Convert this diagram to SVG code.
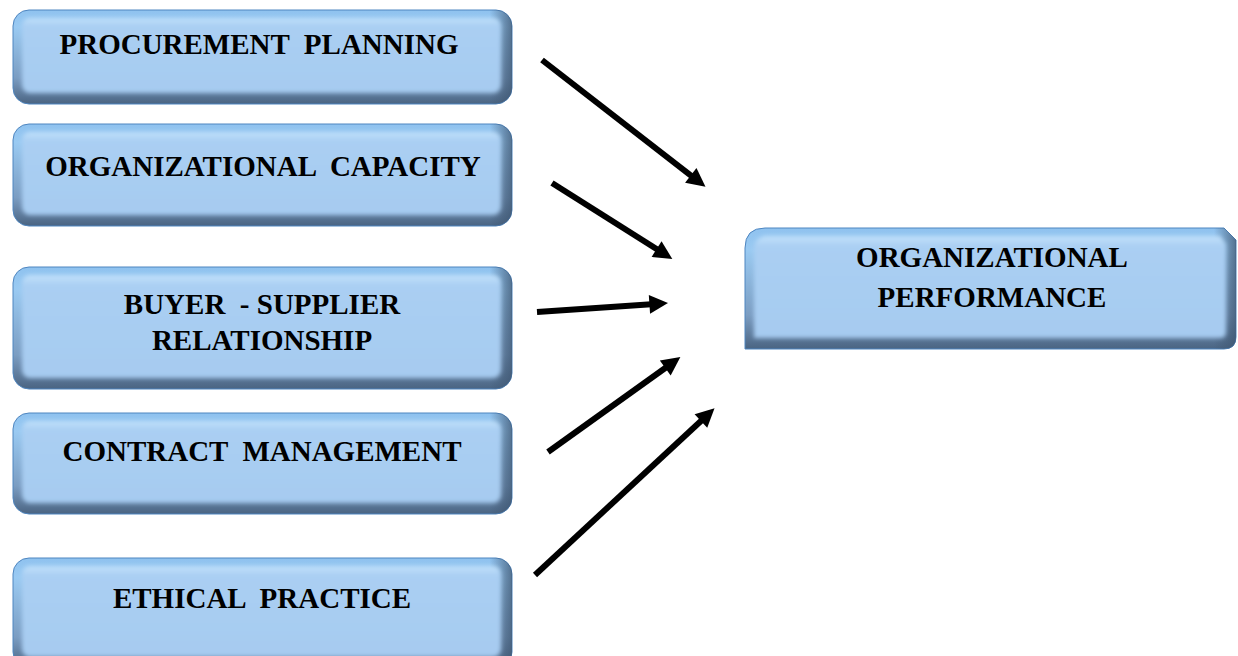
<svg xmlns="http://www.w3.org/2000/svg" width="1238" height="656" viewBox="0 0 1238 656">
  <defs>
    <!-- bevel edge shading: light top, dark bottom -->
    <linearGradient id="edgeV" x1="0" y1="0" x2="0" y2="1">
      <stop offset="0" stop-color="#8fc2ef"/>
      <stop offset="0.18" stop-color="#9acaf2"/>
      <stop offset="0.72" stop-color="#7b9dc2"/>
      <stop offset="1" stop-color="#4a6482"/>
    </linearGradient>
    <!-- darker right-hand bevel -->
    <linearGradient id="edgeH" x1="0" y1="0" x2="1" y2="0">
      <stop offset="0" stop-color="#3d5570" stop-opacity="0"/>
      <stop offset="0.955" stop-color="#3d5570" stop-opacity="0"/>
      <stop offset="1" stop-color="#3d5570" stop-opacity="0.75"/>
    </linearGradient>
    <!-- flat face of the button -->
    <linearGradient id="face" x1="0" y1="0" x2="0" y2="1">
      <stop offset="0" stop-color="#c3e2fb"/>
      <stop offset="0.1" stop-color="#aacff3"/>
      <stop offset="1" stop-color="#a6cbf0"/>
    </linearGradient>
    <filter id="soft" x="-5%" y="-10%" width="110%" height="120%">
      <feGaussianBlur stdDeviation="2"/>
    </filter>
    <marker id="head" viewBox="0 0 10 10" refX="3" refY="5" markerWidth="3.6" markerHeight="3.1" orient="auto" markerUnits="strokeWidth">
      <path d="M0,0 L10,5 L0,10 z" fill="#000"/>
    </marker>
    <style>
      .edge { fill: url(#edgeV); stroke: #4f86c0; stroke-width: 1; }
      .shade { fill: url(#edgeH); }
      .face { fill: url(#face); filter: url(#soft); }
      .label { font-family: "Liberation Serif", "Times New Roman", serif; font-weight: bold; font-size: 29px; fill: #000; text-anchor: middle; }
      .arrow { stroke: #000; stroke-width: 6; fill: none; marker-end: url(#head); }
    </style>
  </defs>

  <rect width="1238" height="656" fill="#ffffff"/>

  <g id="procurement-planning">
    <rect class="edge" x="13" y="10" width="499" height="94" rx="16"/>
    <rect class="shade" x="13" y="10" width="499" height="94" rx="16"/>
    <rect class="face" x="22" y="18" width="479" height="75" rx="8"/>
    <text class="label" x="259" y="54" xml:space="preserve">PROCUREMENT  PLANNING</text>
  </g>

  <g id="organizational-capacity">
    <rect class="edge" x="13" y="124" width="499" height="102" rx="16"/>
    <rect class="shade" x="13" y="124" width="499" height="102" rx="16"/>
    <rect class="face" x="22" y="132" width="479" height="83" rx="8"/>
    <text class="label" x="263" y="176" xml:space="preserve">ORGANIZATIONAL  CAPACITY</text>
  </g>

  <g id="buyer-supplier-relationship">
    <rect class="edge" x="13" y="267" width="499" height="122" rx="16"/>
    <rect class="shade" x="13" y="267" width="499" height="122" rx="16"/>
    <rect class="face" x="22" y="275" width="479" height="103" rx="8"/>
    <text class="label" x="262" y="314" xml:space="preserve">BUYER  - SUPPLIER</text>
    <text class="label" x="262" y="350">RELATIONSHIP</text>
  </g>

  <g id="contract-management">
    <rect class="edge" x="13" y="413" width="499" height="101" rx="16"/>
    <rect class="shade" x="13" y="413" width="499" height="101" rx="16"/>
    <rect class="face" x="22" y="421" width="479" height="82" rx="8"/>
    <text class="label" x="262" y="461" xml:space="preserve">CONTRACT  MANAGEMENT</text>
  </g>

  <g id="ethical-practice">
    <rect class="edge" x="13" y="558" width="499" height="110" rx="16"/>
    <rect class="shade" x="13" y="558" width="499" height="110" rx="16"/>
    <rect class="face" x="22" y="566" width="479" height="91" rx="8"/>
    <text class="label" x="262" y="608" xml:space="preserve">ETHICAL  PRACTICE</text>
  </g>

  <g id="organizational-performance">
    <path class="edge" d="M745,349 L745,248 Q745,228 765,228 L1224,228 L1236,240 L1236,337 Q1236,349 1224,349 Z"/>
    <path class="shade" d="M745,349 L745,248 Q745,228 765,228 L1224,228 L1236,240 L1236,337 Q1236,349 1224,349 Z"/>
    <path class="face" d="M754,338 L754,250 Q754,236 768,236 L1220,236 L1226,244 L1226,332 Q1226,338 1220,338 Z"/>
    <text class="label" x="992" y="267">ORGANIZATIONAL</text>
    <text class="label" x="992" y="307">PERFORMANCE</text>
  </g>

  <g id="connectors">
    <line class="arrow" x1="542" y1="60" x2="695.2" y2="178.8"/>
    <line class="arrow" x1="552" y1="183" x2="661.3" y2="252.0"/>
    <line class="arrow" x1="537" y1="312" x2="655.0" y2="304.0"/>
    <line class="arrow" x1="548" y1="452" x2="669.8" y2="364.7"/>
    <line class="arrow" x1="535" y1="575" x2="705.0" y2="417.2"/>
  </g>
</svg>
